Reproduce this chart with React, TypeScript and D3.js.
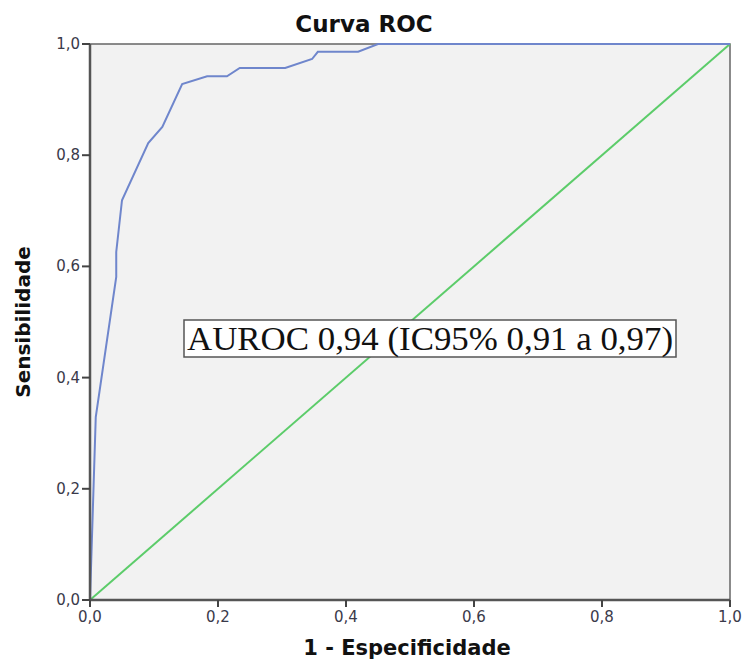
import React, { useEffect } from 'react';
import * as d3 from 'd3';

// ROC curve points (1 - especificidade, sensibilidade)
const fpr = [0, 0.009, 0.041, 0.041, 0.05, 0.091, 0.113, 0.144, 0.183, 0.214, 0.234, 0.305, 0.347, 0.356, 0.419, 0.45, 1];
const tpr = [0, 0.329, 0.581, 0.626, 0.719, 0.822, 0.851, 0.928, 0.942, 0.942, 0.957, 0.957, 0.973, 0.986, 0.986, 1, 1];
const refLine = [0, 1];
const ticks = [0, 0.2, 0.4, 0.6, 0.8, 1.0];
const tickLabels = ['0,0', '0,2', '0,4', '0,6', '0,8', '1,0'];
const title = 'Curva ROC';
const xTitle = '1 - Especificidade';
const yTitle = 'Sensibilidade';
const note = 'AUROC 0,94 (IC95% 0,91 a 0,97)';

const W = 745, H = 662;
const left = 90, right = 730, top = 44, bottom = 600;
const sans = '"DejaVu Sans", sans-serif';

export default function App() {
  useEffect(() => {
    document.body.style.margin = '0';
  }, []);

  const x = d3.scaleLinear().domain([0, 1]).range([left, right]);
  const y = d3.scaleLinear().domain([0, 1]).range([bottom, top]);

  const line = d3.line<number>()
    .x((d, i) => x(fpr[i]))
    .y((d) => y(d));
  const diag = d3.line<number>()
    .x((d) => x(d))
    .y((d) => y(d));

  return (
    <svg width={W} height={H} style={{ display: 'block', background: '#fff' }}>
      <rect x={left} y={top} width={right - left} height={bottom - top} fill="#f2f2f2" stroke="#666" strokeWidth={1.5} />
      <path d={diag(refLine) || ''} fill="none" stroke="#5ccc6a" strokeWidth={2} />
      <path d={line(tpr) || ''} fill="none" stroke="#6f86cc" strokeWidth={2} />
      {/* axes */}
      <line x1={left} x2={left} y1={top} y2={bottom} stroke="#555" strokeWidth={2.5} />
      <line x1={left} x2={right} y1={bottom} y2={bottom} stroke="#555" strokeWidth={2.5} />
      {ticks.map((t, i) => (
        <g key={'x' + i}>
          <line x1={x(t)} x2={x(t)} y1={bottom} y2={bottom + 7} stroke="#444" strokeWidth={2} />
          <text x={x(t)} y={bottom + 22} textAnchor="middle" fontFamily={sans} fontSize={15} fill="#3a3a4a">{tickLabels[i]}</text>
        </g>
      ))}
      {ticks.map((t, i) => (
        <g key={'y' + i}>
          <line x1={left - 8} x2={left} y1={y(t)} y2={y(t)} stroke="#444" strokeWidth={2} />
          <text x={left - 10} y={y(t) + 5} textAnchor="end" fontFamily={sans} fontSize={15} fill="#3a3a4a">{tickLabels[i]}</text>
        </g>
      ))}
      <text x={364} y={32} textAnchor="middle" fontFamily={sans} fontWeight="bold" fontSize={23} fill="#111">{title}</text>
      <text x={407} y={655} textAnchor="middle" fontFamily={sans} fontWeight="bold" fontSize={21} fill="#111">{xTitle}</text>
      <text transform={`translate(30,322) rotate(-90)`} textAnchor="middle" fontFamily={sans} fontWeight="bold" fontSize={20} fill="#111">{yTitle}</text>
      <rect x={184} y={320} width={492} height={37} fill="#fff" stroke="#555" strokeWidth={1.5} />
      <text x={187} y={350} textLength={486} lengthAdjust="spacingAndGlyphs" fontFamily='"Liberation Serif", serif' fontSize={33} fill="#111">{note}</text>
    </svg>
  );
}
